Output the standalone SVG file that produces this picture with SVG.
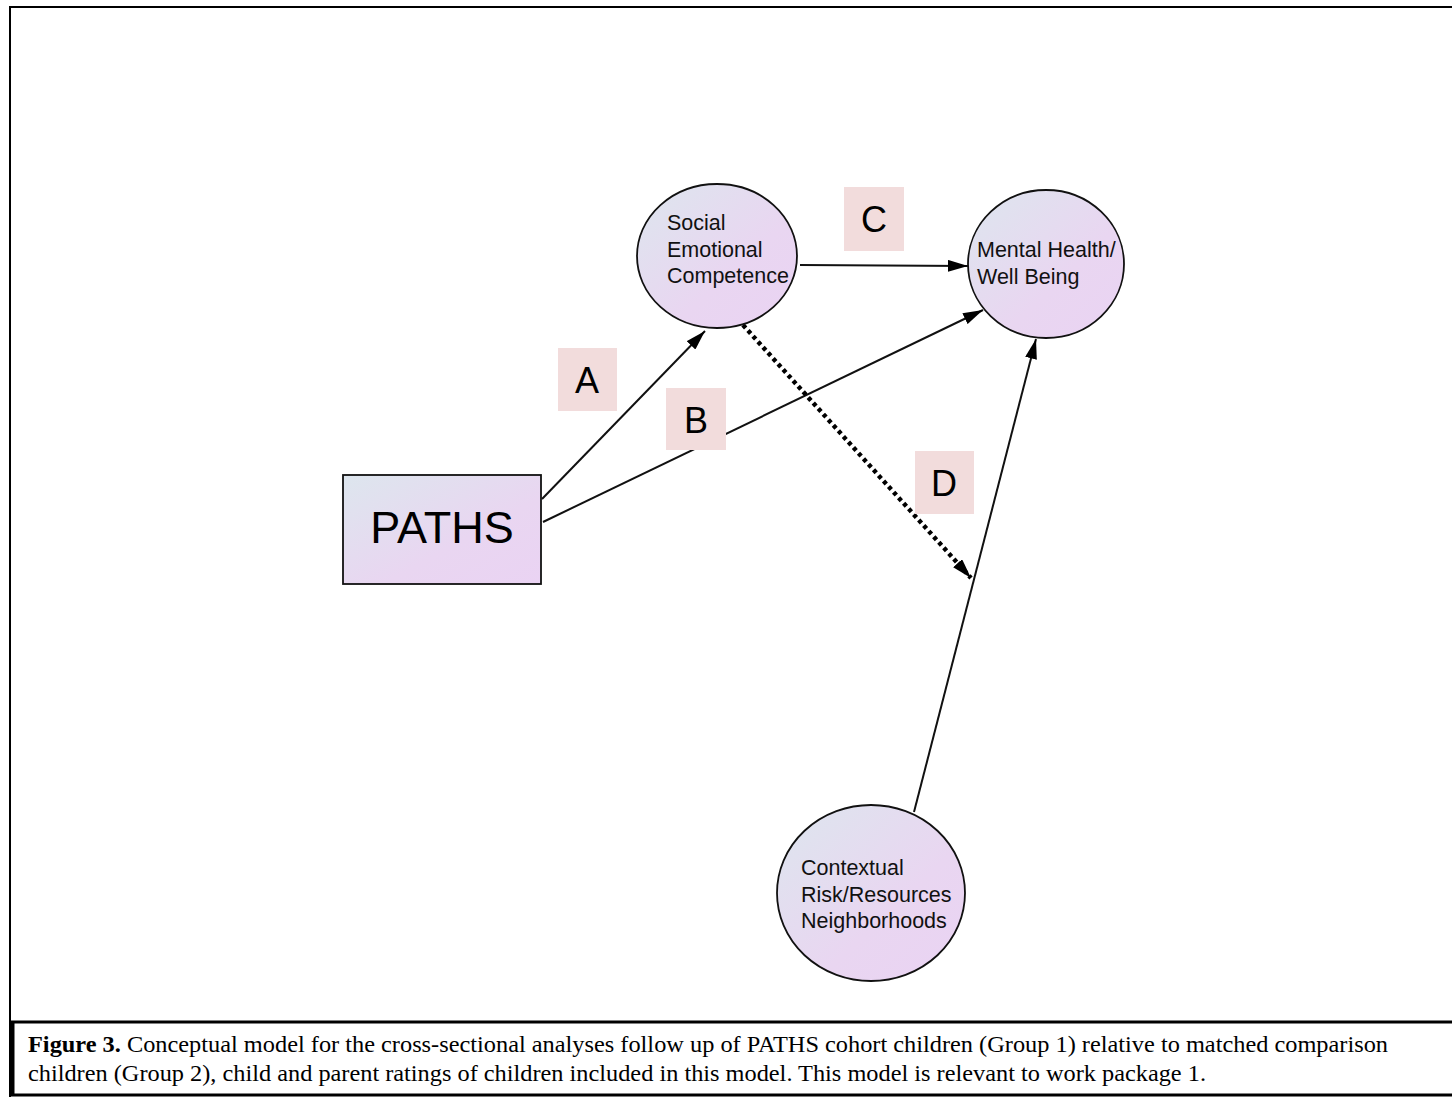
<svg xmlns="http://www.w3.org/2000/svg" width="1452" height="1097" viewBox="0 0 1452 1097">
  <defs>
    <linearGradient id="nodeGrad" x1="0" y1="0" x2="1" y2="1">
      <stop offset="0" stop-color="#dde6ee"/>
      <stop offset="0.6" stop-color="#e9d6f1"/>
      <stop offset="1" stop-color="#ead3f3"/>
    </linearGradient>
    <marker id="arrow" viewBox="0 0 20 12" refX="20" refY="6" markerWidth="20" markerHeight="12" markerUnits="userSpaceOnUse" orient="auto">
      <path d="M0,0 L20,6 L0,12 z" fill="#000"/>
    </marker>
    <style>
      .node { fill: url(#nodeGrad); stroke: #111; stroke-width: 1.8; }
      .lbl { font-family: "Liberation Sans", Arial, sans-serif; font-size: 21.5px; fill: #111; }
      .edge { stroke: #111; stroke-width: 2; fill: none; marker-end: url(#arrow); }
      .dotted { stroke: #000; stroke-width: 4.5; stroke-dasharray: 4 3.5; fill: none; marker-end: url(#arrow); }
      .tag { fill: #f2dcdc; }
      .tagtxt { font-family: "Liberation Sans", Arial, sans-serif; font-size: 36px; fill: #000; text-anchor: middle; }
      .cap { font-family: "Liberation Serif", "Times New Roman", serif; font-size: 23px; fill: #000; }
    </style>
  </defs>
  <rect x="0" y="0" width="1452" height="1097" fill="#fff"/>
  <!-- outer frame -->
  <rect x="10" y="7" width="1460" height="1100" fill="none" stroke="#000" stroke-width="2"/>

  <g id="connectors">
    <line class="edge" x1="542" y1="499" x2="705" y2="331"/>
    <line class="edge" x1="543" y1="522" x2="983" y2="310"/>
    <line class="edge" x1="800" y1="265" x2="968" y2="266"/>
    <line class="dotted" x1="743" y1="325" x2="971" y2="578"/>
    <line class="edge" x1="914" y1="812" x2="1036" y2="339"/>
  </g>

  <g id="label-A"><rect class="tag" x="558" y="348" width="59" height="63"/><text class="tagtxt" x="587" y="393">A</text></g>
  <g id="label-B"><rect class="tag" x="666" y="388" width="60" height="62"/><text class="tagtxt" x="696" y="433">B</text></g>
  <g id="label-C"><rect class="tag" x="844" y="187" width="60" height="64"/><text class="tagtxt" x="874" y="232">C</text></g>
  <g id="label-D"><rect class="tag" x="915" y="451" width="59" height="63"/><text class="tagtxt" x="944" y="496">D</text></g>

  <g id="node-paths">
    <rect class="node" x="343" y="475" width="198" height="109"/>
    <text x="442" y="543" font-family="Liberation Sans, Arial, sans-serif" font-size="45" fill="#000" text-anchor="middle">PATHS</text>
  </g>

  <g id="node-sec">
    <ellipse class="node" cx="717" cy="256" rx="80" ry="72"/>
    <text class="lbl"><tspan x="667" y="230">Social</tspan><tspan x="667" y="257">Emotional</tspan><tspan x="667" y="283">Competence</tspan></text>
  </g>

  <g id="node-mh">
    <ellipse class="node" cx="1046" cy="264" rx="78" ry="74"/>
    <text class="lbl"><tspan x="977" y="257">Mental Health/</tspan><tspan x="977" y="284">Well Being</tspan></text>
  </g>

  <g id="node-ctx">
    <ellipse class="node" cx="871" cy="893" rx="94" ry="88"/>
    <text class="lbl"><tspan x="801" y="875">Contextual</tspan><tspan x="801" y="902">Risk/Resources</tspan><tspan x="801" y="928">Neighborhoods</tspan></text>
  </g>

  <g id="caption">
    <rect x="12" y="1022" width="1460" height="73" fill="#fff" stroke="#000" stroke-width="3"/>
    <line x1="12" y1="1022" x2="12" y2="1096" stroke="#000" stroke-width="5"/>
    <text class="cap" x="28" y="1052" textLength="1360" lengthAdjust="spacingAndGlyphs"><tspan font-weight="bold">Figure 3.</tspan> Conceptual model for the cross-sectional analyses follow up of PATHS cohort children (Group 1) relative to matched comparison</text>
    <text class="cap" x="28" y="1081" textLength="1178" lengthAdjust="spacingAndGlyphs">children (Group 2), child and parent ratings of children included in this model. This model is relevant to work package 1.</text>
  </g>
</svg>
